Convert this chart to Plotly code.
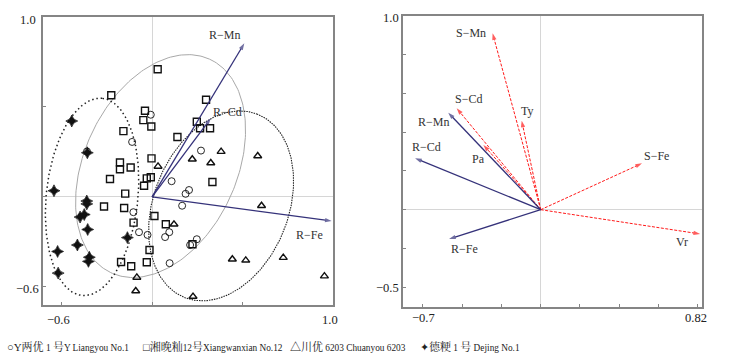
import numpy as np
import plotly.graph_objects as go

# ---------------- data: left panel (sample scores) ----------------
liangyou_x = [-0.007, -0.110, -0.359, 0.270, 0.108, 0.204, 0.185, 0.166, -0.103, -0.072, -0.025, 0.095, 0.072, 0.247, 0.210, 0.097]
liangyou_y = [0.456, 0.305, 0.252, 0.257, 0.087, 0.038, 0.017, -0.049, -0.085, -0.196, -0.211, -0.196, -0.223, -0.235, -0.267, -0.368]

xiangwanxian_x = [0.031, -0.225, 0.298, -0.039, -0.048, -0.004, -0.158, 0.140, 0.247, 0.265, 0.320, -0.003, -0.177, -0.177,
                  -0.118, -0.232, -0.029, -0.007, 0.333, -0.044, -0.148, -0.265, -0.154, 0.013, -0.102, 0.076, 0.223, -0.014,
                  -0.171, -0.115, -0.029]
xiangwanxian_y = [0.708, 0.564, 0.539, 0.478, 0.426, 0.391, 0.365, 0.332, 0.417, 0.381, 0.381, 0.214, 0.191, 0.153,
                  0.163, 0.099, 0.103, 0.109, 0.083, 0.062, 0.018, -0.053, -0.062, -0.106, -0.143, -0.152, -0.263, -0.295,
                  -0.361, -0.385, -0.363]

chuanyou_x = [0.381, 0.222, 0.324, 0.033, 0.583, 0.121, 0.604, 0.443, 0.517, 0.724, 0.951, 0.226, -0.084, -0.090]
chuanyou_y = [0.251, 0.209, 0.188, 0.169, 0.227, -0.152, -0.049, -0.346, -0.352, -0.337, -0.440, -0.553, -0.447, -0.522]

dejing_x = [-0.443, -0.357, -0.541, -0.360, -0.360, -0.397, -0.374, -0.355, -0.412, -0.521, -0.136, -0.346, -0.351, -0.518]
dejing_y = [0.421, 0.245, 0.034, -0.023, -0.039, -0.112, -0.098, -0.181, -0.267, -0.303, -0.226, -0.335, -0.358, -0.423]

left_vec_names = ["R−Mn", "R−Cd", "R−Fe"]
left_vec_x = [0.509, 0.324, 0.991]
left_vec_y = [0.852, 0.436, -0.134]

# group ellipses: centre x, centre y, semi-major, semi-minor, angle (deg)
ell_xiangwanxian = (0.047, 0.171, 0.652, 0.421, 65.5)
ell_dejing = (-0.331, 0.000, 0.550, 0.253, 84.2)
ell_chuanyou = (0.381, -0.050, 0.547, 0.372, 68.5)

# ---------------- data: right panel (loadings) ----------------
root_names = ["R−Mn", "R−Cd", "R−Fe"]
root_x = [-0.471, -0.640, -0.467]
root_y = [0.500, 0.265, -0.151]

soil_names = ["S−Mn", "S−Cd", "Ty", "Pa", "S−Fe", "Vr"]
soil_x = [-0.245, -0.428, -0.097, -0.292, 0.516, 0.812]
soil_y = [0.909, 0.523, 0.459, 0.334, 0.239, -0.125]

# legend entries: (symbol, chinese name, number, suffix, english name)
legend_symbols = ["○", "□", "△", "✦"]
legend_cn = [("Y两优", " 1 ", "号"), ("湘晚籼", "12", "号"), ("川优", " 6203", ""), ("德粳", " 1 ", "号")]
legend_en = ["Y Liangyou No.1", "Xiangwanxian No.12", " Chuanyou 6203", " Dejing No.1"]

# ---------------- styling / layout ----------------
W, H = 737, 357
SERIF = "Liberation Serif, Times New Roman, Noto Serif CJK SC, Noto Sans CJK SC, serif"
NAVY = "#35327a"
RED = "#ff1a1a"
FRAME = "#858585"

left_label_shift = {"R−Mn": (-20, 8), "R−Cd": (17, 6), "R−Fe": (-22, -14)}
right_label_shift = {"R−Mn": (-15, -9), "R−Cd": (11, 11), "R−Fe": (15, -10),
                     "S−Mn": (-22, 0), "S−Cd": (12, 9), "Ty": (6, 10), "Pa": (-5, -14),
                     "S−Fe": (14, 7), "Vr": (-18, -8)}

fig = go.Figure()


def ellipse_path(p, n=240):
    cx, cy, a, b, ang = p
    t = np.linspace(0, 2 * np.pi, n)
    th = np.deg2rad(ang)
    ex = cx + a * np.cos(t) * np.cos(th) - b * np.sin(t) * np.sin(th)
    ey = cy + a * np.cos(t) * np.sin(th) + b * np.sin(t) * np.cos(th)
    return ex, ey


for p, col, dash, w in [(ell_xiangwanxian, "#a8a8a8", "solid", 1.0),
                        (ell_dejing, "#222222", "1.5px,2.8px", 1.5),
                        (ell_chuanyou, "#222222", "1.5px,1px", 1.1)]:
    ex, ey = ellipse_path(p)
    fig.add_trace(go.Scatter(x=ex, y=ey, mode="lines", line=dict(color=col, width=w, dash=dash),
                             hoverinfo="skip", showlegend=False, xaxis="x", yaxis="y"))

mk_line = "#111111"
fig.add_trace(go.Scatter(x=liangyou_x, y=liangyou_y, mode="markers", xaxis="x", yaxis="y", showlegend=False,
                         marker=dict(symbol="circle-open", size=7, color=mk_line, line=dict(width=0.9, color=mk_line))))
fig.add_trace(go.Scatter(x=xiangwanxian_x, y=xiangwanxian_y, mode="markers", xaxis="x", yaxis="y", showlegend=False,
                         marker=dict(symbol="square-open", size=7, color=mk_line, line=dict(width=1.4, color=mk_line))))
fig.add_trace(go.Scatter(x=chuanyou_x, y=chuanyou_y, mode="markers", xaxis="x", yaxis="y", showlegend=False,
                         marker=dict(symbol="triangle-up-open", size=7, color=mk_line, line=dict(width=1.4, color=mk_line))))
fig.add_trace(go.Scatter(x=dejing_x, y=dejing_y, mode="markers", xaxis="x", yaxis="y", showlegend=False,
                         marker=dict(symbol="star-diamond", size=8.5, color=mk_line, line=dict(width=0.7, color=mk_line))))


def add_arrow(xa, ya, x, y, color, dash, width):
    fig.add_trace(go.Scatter(x=[0, x], y=[0, y], mode="lines+markers", xaxis=xa, yaxis=ya, showlegend=False,
                             hoverinfo="skip", line=dict(color=color, width=width, dash=dash),
                             marker=dict(symbol="arrow", angleref="previous", size=[0, 7], color=color,
                                         line=dict(width=0))))


annotations = []
for n, x, y in zip(left_vec_names, left_vec_x, left_vec_y):
    add_arrow("x", "y", x, y, NAVY, "solid", 1.3)
    dx, dy = left_label_shift[n]
    annotations.append(dict(x=x, y=y, xref="x", yref="y", text=n, showarrow=False, xshift=dx, yshift=dy,
                            font=dict(family=SERIF, size=12, color="#333")))

for n, x, y in zip(soil_names, soil_x, soil_y):
    add_arrow("x2", "y2", x, y, RED, "3px,1.5px", 1.0)
    dx, dy = right_label_shift[n]
    annotations.append(dict(x=x, y=y, xref="x2", yref="y2", text=n, showarrow=False, xshift=dx, yshift=dy,
                            font=dict(family=SERIF, size=12, color="#333")))
for n, x, y in zip(root_names, root_x, root_y):
    add_arrow("x2", "y2", x, y, NAVY, "solid", 1.3)
    dx, dy = right_label_shift[n]
    annotations.append(dict(x=x, y=y, xref="x2", yref="y2", text=n, showarrow=False, xshift=dx, yshift=dy,
                            font=dict(family=SERIF, size=12, color="#333")))

# axis end labels (placed as text, pixel positions)
def ptxt(px, py, text, xanchor="center"):
    annotations.append(dict(x=px / W, y=1 - py / H, xref="paper", yref="paper", text=text, showarrow=False,
                            xanchor=xanchor, yanchor="middle", font=dict(family=SERIF, size=12.5, color="#222")))

ptxt(38, 20, "1.0", "right")
ptxt(41, 289, "−0.6", "right")
ptxt(58, 320, "−0.6")
ptxt(330, 320, "1.0")
ptxt(401, 18, "1.0", "right")
ptxt(401, 288, "−0.5", "right")
ptxt(423, 318, "−0.7")
ptxt(696, 318, "0.82")

CJK = '<span style="font-size:11px">{}</span>'
for px, sym, cn, en in zip([5, 141, 288, 418], legend_symbols, legend_cn, legend_en):
    name, num, suffix = cn
    txt = CJK.format(sym + name) + num + (CJK.format(suffix) if suffix else "") + en
    annotations.append(dict(x=px / W, y=1 - 346 / H, xref="paper", yref="paper", text=txt, showarrow=False,
                            xanchor="left", yanchor="middle", font=dict(family=SERIF, size=9.3, color="#222")))

axcommon = dict(showgrid=False, zeroline=True, zerolinecolor="#d6d6d6", zerolinewidth=1,
                showline=True, mirror=True, linecolor=FRAME, linewidth=1.5,
                ticks="inside", ticklen=3, tickcolor=FRAME, showticklabels=False, fixedrange=True)

fig.update_layout(
    width=W, height=H, autosize=False, margin=dict(l=0, r=0, t=0, b=0),
    paper_bgcolor="white", plot_bgcolor="white", showlegend=False,
    xaxis=dict(domain=[43.3 / W, 333.3 / W], range=[-0.6, 1.0], tickvals=[-0.5, 0, 0.5], anchor="y", **axcommon),
    yaxis=dict(domain=[1 - 305 / H, 1 - 16.7 / H], range=[-0.6, 1.0], tickvals=[-0.5, 0, 0.5], anchor="x", **axcommon),
    xaxis2=dict(domain=[403.3 / W, 701.7 / W], range=[-0.7, 0.82], tickvals=[-0.6, -0.4, -0.2, 0, 0.2, 0.4, 0.6, 0.8],
                anchor="y2", **axcommon),
    yaxis2=dict(domain=[1 - 306.7 / H, 1 - 15.7 / H], range=[-0.5, 1.0], tickvals=[-0.4, -0.2, 0, 0.2, 0.4, 0.6, 0.8],
                anchor="x2", **axcommon),
    annotations=annotations,
)

fig.write_html("out.html", config={"displayModeBar": False},
               post_script="document.body.style.margin='0';document.body.style.overflow='hidden';")
